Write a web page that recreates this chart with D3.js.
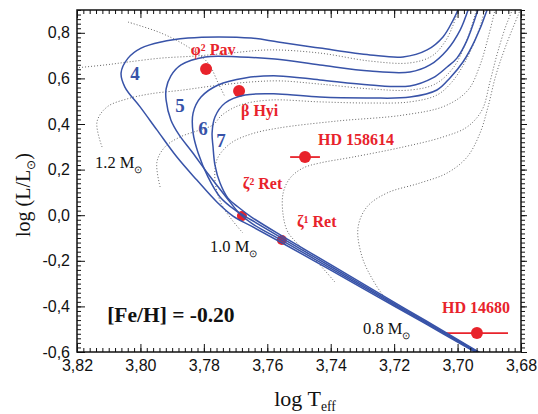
<!DOCTYPE html>
<html>
<head>
<meta charset="utf-8">
<script src="https://cdn.jsdelivr.net/npm/d3@7"></script>
<style>
	body { margin:0; background:#fff; }
	svg { display:block; }
</style>
</head>
<body>
<div id="chart"></div>
<script>
'use strict';

// isochrones [log Teff, log L/Lsun], main sequence -> turnoff -> subgiant -> giant branch
const iso4 = [[3.690,-0.635],[3.695,-0.596],[3.710,-0.477],[3.725,-0.359],[3.740,-0.241],[3.755,-0.124],[3.765,-0.048],
	[3.7708,-0.004],[3.7759,0.058],[3.7822,0.154],[3.7885,0.255],[3.7948,0.374],[3.8001,0.475],[3.8049,0.562],[3.8061,0.624],
	[3.8039,0.689],[3.7998,0.733],[3.7935,0.760],[3.7850,0.777],[3.7755,0.782],[3.7651,0.777],[3.7566,0.760],[3.7434,0.733],
	[3.7276,0.703],[3.7172,0.694],[3.7096,0.725],[3.7046,0.782],[3.7014,0.856],[3.6999,0.900],[3.6989,0.944]];
const iso5 = [[3.690,-0.6325],[3.695,-0.593],[3.710,-0.472],[3.725,-0.353],[3.740,-0.233],[3.755,-0.114],[3.765,-0.035],
	[3.7686,0.005],[3.7730,0.080],[3.7784,0.176],[3.7837,0.277],[3.7878,0.352],[3.7904,0.418],[3.7919,0.505],[3.7919,0.554],
	[3.7904,0.611],[3.7872,0.659],[3.7796,0.694],[3.7686,0.694],[3.7576,0.685],[3.7434,0.659],[3.7276,0.632],[3.7150,0.628],
	[3.7087,0.659],[3.7033,0.725],[3.6992,0.812],[3.6967,0.900],[3.6958,0.944]];
const iso6 = [[3.690,-0.6295],[3.695,-0.589],[3.710,-0.468],[3.725,-0.347],[3.740,-0.225],[3.755,-0.104],[3.765,-0.021],
	[3.7702,0.023],[3.7749,0.080],[3.7787,0.168],[3.7818,0.273],[3.7834,0.361],[3.7834,0.448],[3.7809,0.518],[3.7755,0.571],
	[3.7670,0.602],[3.7566,0.611],[3.7434,0.593],[3.7276,0.571],[3.7150,0.567],[3.7078,0.602],[3.7033,0.650],[3.7002,0.689],
	[3.6970,0.768],[3.6936,0.900],[3.6926,0.944]];
const iso7 = [[3.690,-0.627],[3.695,-0.586],[3.710,-0.463],[3.725,-0.341],[3.740,-0.217],[3.755,-0.094],[3.765,-0.008],
	[3.7692,0.036],[3.7724,0.075],[3.7749,0.141],[3.7765,0.220],[3.7771,0.299],[3.7774,0.361],[3.7765,0.431],[3.7733,0.492],
	[3.7670,0.527],[3.7566,0.532],[3.7434,0.518],[3.7276,0.514],[3.7150,0.518],[3.7065,0.549],[3.7024,0.602],[3.6983,0.672],
	[3.6945,0.768],[3.6907,0.900],[3.6898,0.944]];
const isoAges = ["4", "5", "6", "7"];

// evolutionary tracks (dotted)
const track08 = [[3.7191,-0.394],[3.7229,-0.359],[3.7267,-0.284],[3.7301,-0.183],[3.7314,-0.056],[3.7286,0.036],[3.7223,0.097],
	[3.7119,0.141],[3.7033,0.185],[3.6970,0.255],[3.6929,0.361],[3.6904,0.475],[3.6879,0.615],[3.6847,0.746],[3.6809,0.878],[3.6800,0.909]];
const track09 = [[3.7387,-0.293],[3.7440,-0.210],[3.7497,-0.135],[3.7535,-0.074],[3.7550,0.001],[3.7550,0.097],[3.7528,0.163],
	[3.7487,0.207],[3.7434,0.229],[3.7330,0.255],[3.7172,0.299],[3.7046,0.343],[3.6970,0.387],[3.6923,0.461],[3.6898,0.584],
	[3.6876,0.703],[3.6850,0.821],[3.6828,0.900],[3.6822,0.935]];
const track10 = [[3.7677,-0.078],[3.7711,-0.021],[3.7743,0.045],[3.7762,0.124],[3.7765,0.198],[3.7755,0.255],[3.7714,0.317],
	[3.7651,0.356],[3.7566,0.382],[3.7380,0.413],[3.7172,0.439],[3.7040,0.479],[3.6967,0.549],[3.6929,0.659],[3.6904,0.777],
	[3.6882,0.900],[3.6876,0.935]];
const track11 = [[3.7938,0.124],[3.7948,0.233],[3.7923,0.299],[3.7875,0.343],[3.7812,0.374],[3.7771,0.396],[3.7743,0.439],
	[3.7686,0.483],[3.7591,0.505],[3.7434,0.497],[3.7276,0.492],[3.7150,0.497],[3.7065,0.527],[3.7018,0.584],[3.6973,0.681],
	[3.6935,0.804],[3.6914,0.900],[3.6907,0.935]];
const track12 = [[3.8121,0.299],[3.8137,0.409],[3.8105,0.475],[3.8042,0.510],[3.7970,0.532],[3.7866,0.549],[3.7771,0.567],
	[3.7655,0.584],[3.7560,0.589],[3.7434,0.575],[3.7276,0.554],[3.7150,0.549],[3.7071,0.575],[3.7014,0.646],[3.6977,0.746],
	[3.6945,0.878],[3.6936,0.935]];
const track13 = [[3.8250,0.640],[3.8112,0.659],[3.8039,0.672],[3.7935,0.689],[3.7828,0.698],[3.7718,0.711],[3.7591,0.725],
	[3.7434,0.711],[3.7276,0.676],[3.7150,0.668],[3.7081,0.698],[3.7040,0.760],[3.7014,0.834],[3.6999,0.900],[3.6992,0.935]];
const track14 = [[3.8039,0.847],[3.7935,0.799],[3.7850,0.738],[3.7787,0.668],[3.7755,0.580],[3.7733,0.518]];
const massNames = ["1.2", "1.0", "0.8"];

// stars
const starNames = ["φ² Pav", "β Hyi", "HD 158614", "ζ² Ret", "ζ¹ Ret", "HD 14680"];
const starTeff  = [3.7793, 3.7689, 3.7481, 3.7680, 3.7554, 3.6939];
const starLum   = [0.641, 0.545, 0.255, -0.004, -0.109, -0.517];
const starErr   = [0, 0, 0.0047, 0, 0, 0.0098];

const xTicks = [3.82, 3.80, 3.78, 3.76, 3.74, 3.72, 3.70, 3.68];
const yTicks = [-0.6, -0.4, -0.2, 0.0, 0.2, 0.4, 0.6, 0.8];
const xMinor = d3.range(0, 71).map(i => 3.68 + i * 0.002);
const yMinor = d3.range(0, 76).map(i => -0.6 + i * 0.02);

const W = 538, H = 414;
const margin = { top:10, right:17, bottom:62, left:77 };
const w = W - margin.left - margin.right;
const h = H - margin.top - margin.bottom;

const BLUE = "#3853a8", RED = "#e8232b";
const SERIF = "'Liberation Serif','Times New Roman',serif";
const SANS = "'Liberation Sans',Arial,sans-serif";

const loc = d3.formatLocale({ decimal:",", thousands:".", grouping:[3], currency:["",""], minus:"-" });

const svg = d3.select("#chart").append("svg")
	.attr("width", W).attr("height", H);

svg.append("defs").append("clipPath").attr("id", "plotclip")
	.append("rect").attr("width", w).attr("height", h);

const g = svg.append("g").attr("transform", `translate(${margin.left},${margin.top})`);

const x = d3.scaleLinear().domain([3.82, 3.68]).range([0, w]);
const y = d3.scaleLinear().domain([-0.6, 0.9]).range([h, 0]);

const line = d3.line()
	.x(d => x(d[0]))
	.y(d => y(d[1]))
	.curve(d3.curveCatmullRom.alpha(0.5));

const plot = g.append("g").attr("clip-path", "url(#plotclip)");

// dotted tracks
plot.append("g").selectAll("path")
	.data([track08, track09, track10, track11, track12, track13, track14])
	.join("path")
	.attr("d", line)
	.attr("fill", "none")
	.attr("stroke", "#555")
	.attr("stroke-width", 0.9)
	.attr("stroke-dasharray", "1,2");

// stars below the isochrones so the lines show through
const stars = starNames.map((n, i) => ({ name:n, t:starTeff[i], l:starLum[i], e:starErr[i] }));

plot.append("g").selectAll("line")
	.data(stars.filter(s => s.e > 0))
	.join("line")
	.attr("x1", s => x(s.t - s.e)).attr("x2", s => x(s.t + s.e))
	.attr("y1", s => y(s.l)).attr("y2", s => y(s.l))
	.attr("stroke", RED).attr("stroke-width", 1.8);

plot.append("g").selectAll("circle")
	.data(stars)
	.join("circle")
	.attr("cx", s => x(s.t)).attr("cy", s => y(s.l))
	.attr("r", s => s.name.startsWith("ζ") ? 5 : 6)
	.attr("fill", RED);

// isochrones
plot.append("g").selectAll("path")
	.data([iso4, iso5, iso6, iso7])
	.join("path")
	.attr("d", line)
	.attr("fill", "none")
	.attr("stroke", BLUE)
	.attr("stroke-width", 1.5);

// frame + ticks (inside, except the right side)
const axes = [
	[d3.axisBottom(x), xTicks, xMinor, -8, -4, `translate(0,${h})`],
	[d3.axisTop(x), xTicks, xMinor, -8, -4, null],
	[d3.axisLeft(y), yTicks, yMinor, -8, -4, null],
	[d3.axisRight(y), yTicks, yMinor, 6, 4, `translate(${w},0)`]
];

axes.forEach(a => {
	[[a[2], a[4]], [a[1], a[3]]].forEach(p => {
		const ax = g.append("g").attr("transform", a[5])
			.call(a[0].tickValues(p[0]).tickSize(p[1]).tickFormat(""));
		ax.select(".domain").remove();
		ax.selectAll("line").attr("stroke", "#111").attr("stroke-width", 1);
	});
});

g.append("rect")
	.attr("width", w).attr("height", h)
	.attr("fill", "none").attr("stroke", "#111").attr("stroke-width", 1.5);

// tick labels
const xl = g.append("g").attr("transform", `translate(0,${h})`)
	.call(d3.axisBottom(x).tickValues(xTicks).tickSize(0).tickPadding(8).tickFormat(loc.format(".2f")));
const yl = g.append("g")
	.call(d3.axisLeft(y).tickValues(yTicks).tickSize(0).tickPadding(7).tickFormat(loc.format(".1f")));
[xl, yl].forEach(a => {
	a.select(".domain").remove();
	a.selectAll("text").attr("font-family", SANS).attr("font-size", 16).attr("fill", "#111");
});

// helper: text with a lowered part
function label(parent, px, py, parts, opts) {
	const t = parent.append("text")
		.attr("x", px).attr("y", py)
		.attr("font-family", SERIF)
		.attr("font-size", opts.size)
		.attr("font-weight", opts.bold ? "bold" : "normal")
		.attr("fill", opts.color || "#111")
		.attr("text-anchor", opts.anchor || "start");
	parts.forEach(p => {
		const s = t.append("tspan").text(p.t);
		if (p.sub) s.attr("font-size", opts.size * 0.62).attr("dy", p.sub);
		if (p.back) s.attr("dy", p.back);
	});
	return t;
}

// star labels
const starLabelAt = [[3.7841,0.703],[3.7683,0.435],[3.7440,0.308],[3.7677,0.115],[3.7506,-0.052],[3.7049,-0.429]];
stars.forEach((s, i) => {
	label(g, x(starLabelAt[i][0]), y(starLabelAt[i][1]), [{ t:s.name }], { size:16, bold:true, color:RED });
});

// isochrone ages
const isoLabelAt = [[3.8017,0.593],[3.7875,0.453],[3.7803,0.352],[3.7746,0.299]];
isoAges.forEach((a, i) => {
	label(g, x(isoLabelAt[i][0]), y(isoLabelAt[i][1]), [{ t:a }], { size:19, bold:true, color:BLUE, anchor:"middle" });
});

// track masses
const massLabelAt = [[3.8143,0.207],[3.7781,-0.161],[3.7298,-0.521]];
massNames.forEach((m, i) => {
	label(g, x(massLabelAt[i][0]), y(massLabelAt[i][1]),
		[{ t:m + " M" }, { t:"⊙", sub:5 }], { size:16.5 });
});

label(g, x(3.8105), y(-0.468), [{ t:"[Fe/H] = -0.20" }], { size:21.5, bold:true });

// axis titles
label(svg, margin.left + w / 2 + 6, 406, [{ t:"log T" }, { t:"eff", sub:5 }], { size:22, anchor:"middle" });
label(svg.append("g").attr("transform", "translate(30,195) rotate(-90)"), 0, 0,
	[{ t:"log (L/L" }, { t:"⊙", sub:5 }, { t:")", back:-5 }], { size:20, anchor:"middle" });
</script>
</body>
</html>
